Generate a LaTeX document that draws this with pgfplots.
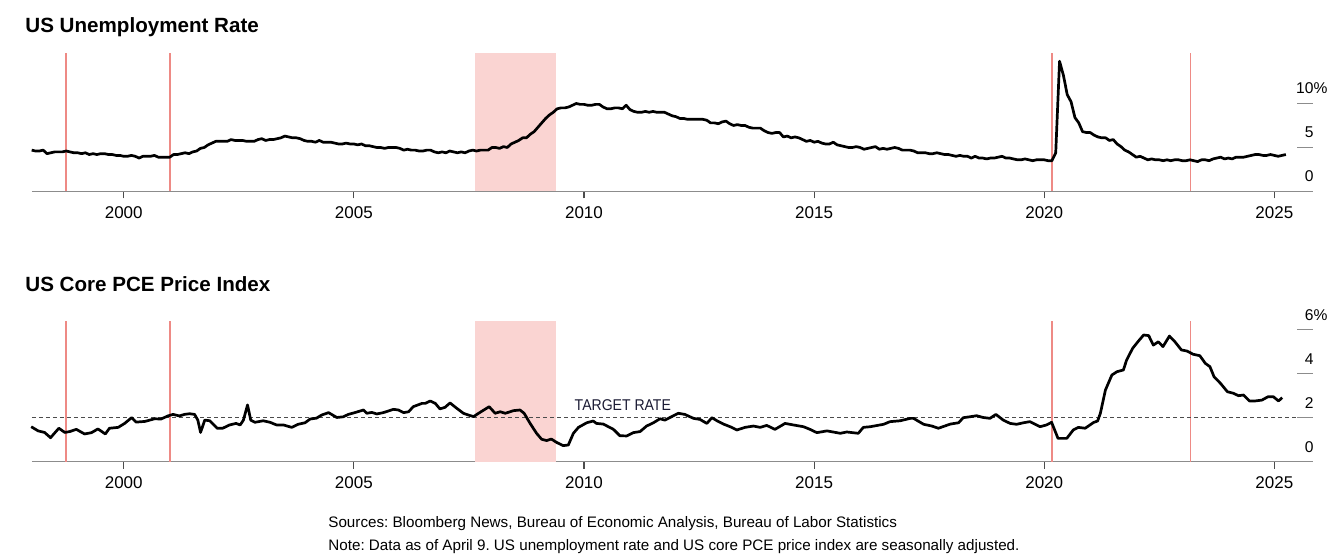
\documentclass[border=0pt]{standalone}
\usepackage{pgfplots}
\pgfplotsset{compat=1.18}
\usepackage{fontspec}
\setmainfont{Liberation Sans}
\newfontfamily\narrow[FakeStretch=0.9]{Liberation Sans}
\frenchspacing

\definecolor{recline}{HTML}{EE8A85}
\definecolor{recfill}{HTML}{FAD4D2}
\definecolor{axgray}{HTML}{8C8C8C}
\definecolor{navy}{HTML}{1A1A33}

% 1 px of the reference = 0.5pt
\pgfplotsset{
  panel/.style={
    scale only axis, width=640.5pt, anchor=south west, clip=false,
    xmin=1998.007, xmax=2025.84, ymin=0,
    axis x line*=bottom, axis y line=none,
    x axis line style={axgray, line width=0.6pt, -},
    xtick={2000,2005,2010,2015,2020,2025},
    xticklabels={2000,2005,2010,2015,2020,2025},
    ytick=\empty,
    tick align=outside, major tick length=3.5pt,
    every tick/.style={black!70, line width=0.6pt},
    xticklabel style={font=\fontsize{8.5}{10}\selectfont, anchor=base, yshift=-10pt},
  },
  recession/.style={fill=recfill, draw=none},
  cutline/.style={recline, line width=0.8pt},
  series/.style={black, line width=1.35pt, line join=round},
}
\tikzset{
  rtick/.style={axgray, line width=0.6pt},
  rlabel/.style={anchor=base east, inner sep=0pt, font=\fontsize{7.8}{10}\selectfont, yshift=4.8pt},
  title/.style={anchor=base west, inner sep=0pt, font=\bfseries\fontsize{10.3}{12}\selectfont},
  note/.style={anchor=base west, inner sep=0pt, font=\fontsize{7.6}{9}\selectfont},
}

\begin{document}
\begin{tikzpicture}
\path[use as bounding box] (0,0) rectangle (671pt,280pt);

% ---------------- top panel: unemployment ----------------
\node[title] at (12.5pt,263.6pt) {US Unemployment Rate};
\begin{axis}[panel, at={(16pt,184.25pt)}, height=69.25pt, ymax=15.74]
\addplot[recession] coordinates {(2007.63,0) (2009.39,0) (2009.39,15.74) (2007.63,15.74)} -- cycle;
\addplot[cutline] coordinates {(1998.74,0) (1998.74,15.74)};
\addplot[cutline] coordinates {(2001.01,0) (2001.01,15.74)};
\addplot[cutline] coordinates {(2020.17,0) (2020.17,15.74)};
\addplot[cutline] coordinates {(2023.18,0) (2023.18,15.74)};
\addplot[series] coordinates {
(1998.000,4.7)
(1998.083,4.6) (1998.167,4.6) (1998.250,4.7) (1998.333,4.3) (1998.417,4.4) (1998.500,4.5) (1998.583,4.5) (1998.667,4.5) (1998.750,4.6) (1998.833,4.5) (1998.917,4.4) (1999.000,4.4)
(1999.083,4.3) (1999.167,4.4) (1999.250,4.2) (1999.333,4.3) (1999.417,4.2) (1999.500,4.3) (1999.583,4.3) (1999.667,4.2) (1999.750,4.2) (1999.833,4.1) (1999.917,4.1) (2000.000,4.0)
(2000.083,4.0) (2000.167,4.1) (2000.250,4.0) (2000.333,3.8) (2000.417,4.0) (2000.500,4.0) (2000.583,4.0) (2000.667,4.1) (2000.750,3.9) (2000.833,3.9) (2000.917,3.9) (2001.000,3.9)
(2001.083,4.2) (2001.167,4.2) (2001.250,4.3) (2001.333,4.4) (2001.417,4.3) (2001.500,4.5) (2001.583,4.6) (2001.667,4.9) (2001.750,5.0) (2001.833,5.3) (2001.917,5.5) (2002.000,5.7)
(2002.083,5.7) (2002.167,5.7) (2002.250,5.7) (2002.333,5.9) (2002.417,5.8) (2002.500,5.8) (2002.583,5.8) (2002.667,5.7) (2002.750,5.7) (2002.833,5.7) (2002.917,5.9) (2003.000,6.0)
(2003.083,5.8) (2003.167,5.9) (2003.250,5.9) (2003.333,6.0) (2003.417,6.1) (2003.500,6.3) (2003.583,6.2) (2003.667,6.1) (2003.750,6.1) (2003.833,6.0) (2003.917,5.8) (2004.000,5.7)
(2004.083,5.7) (2004.167,5.6) (2004.250,5.8) (2004.333,5.6) (2004.417,5.6) (2004.500,5.6) (2004.583,5.5) (2004.667,5.4) (2004.750,5.4) (2004.833,5.5) (2004.917,5.4) (2005.000,5.4)
(2005.083,5.3) (2005.167,5.4) (2005.250,5.2) (2005.333,5.2) (2005.417,5.1) (2005.500,5.0) (2005.583,5.0) (2005.667,4.9) (2005.750,5.0) (2005.833,5.0) (2005.917,5.0) (2006.000,4.9)
(2006.083,4.7) (2006.167,4.8) (2006.250,4.7) (2006.333,4.7) (2006.417,4.6) (2006.500,4.6) (2006.583,4.7) (2006.667,4.7) (2006.750,4.5) (2006.833,4.4) (2006.917,4.5) (2007.000,4.4)
(2007.083,4.6) (2007.167,4.5) (2007.250,4.4) (2007.333,4.5) (2007.417,4.4) (2007.500,4.6) (2007.583,4.7) (2007.667,4.6) (2007.750,4.7) (2007.833,4.7) (2007.917,4.7) (2008.000,5.0)
(2008.083,5.0) (2008.167,4.9) (2008.250,5.1) (2008.333,5.0) (2008.417,5.4) (2008.500,5.6) (2008.583,5.8) (2008.667,6.1) (2008.750,6.1) (2008.833,6.5) (2008.917,6.8) (2009.000,7.3)
(2009.083,7.8) (2009.167,8.3) (2009.250,8.7) (2009.333,9.0) (2009.417,9.4) (2009.500,9.5) (2009.583,9.5) (2009.667,9.6) (2009.750,9.8) (2009.833,10.0) (2009.917,9.9) (2010.000,9.9)
(2010.083,9.8) (2010.167,9.8) (2010.250,9.9) (2010.333,9.9) (2010.417,9.6) (2010.500,9.4) (2010.583,9.4) (2010.667,9.5) (2010.750,9.5) (2010.833,9.4) (2010.917,9.8) (2011.000,9.3)
(2011.083,9.1) (2011.167,9.0) (2011.250,9.0) (2011.333,9.1) (2011.417,9.0) (2011.500,9.1) (2011.583,9.0) (2011.667,9.0) (2011.750,9.0) (2011.833,8.8) (2011.917,8.6) (2012.000,8.5)
(2012.083,8.3) (2012.167,8.3) (2012.250,8.2) (2012.333,8.2) (2012.417,8.2) (2012.500,8.2) (2012.583,8.2) (2012.667,8.1) (2012.750,7.8) (2012.833,7.8) (2012.917,7.7) (2013.000,7.9)
(2013.083,8.0) (2013.167,7.7) (2013.250,7.5) (2013.333,7.6) (2013.417,7.5) (2013.500,7.5) (2013.583,7.3) (2013.667,7.2) (2013.750,7.2) (2013.833,7.2) (2013.917,6.9) (2014.000,6.7)
(2014.083,6.6) (2014.167,6.7) (2014.250,6.7) (2014.333,6.2) (2014.417,6.3) (2014.500,6.1) (2014.583,6.2) (2014.667,6.1) (2014.750,5.9) (2014.833,5.7) (2014.917,5.8) (2015.000,5.6)
(2015.083,5.7) (2015.167,5.5) (2015.250,5.4) (2015.333,5.4) (2015.417,5.6) (2015.500,5.3) (2015.583,5.2) (2015.667,5.1) (2015.750,5.0) (2015.833,5.0) (2015.917,5.1) (2016.000,5.0)
(2016.083,4.8) (2016.167,4.9) (2016.250,5.0) (2016.333,5.1) (2016.417,4.8) (2016.500,4.9) (2016.583,4.8) (2016.667,4.9) (2016.750,5.0) (2016.833,4.9) (2016.917,4.7) (2017.000,4.7)
(2017.083,4.7) (2017.167,4.6) (2017.250,4.4) (2017.333,4.4) (2017.417,4.4) (2017.500,4.3) (2017.583,4.3) (2017.667,4.4) (2017.750,4.3) (2017.833,4.2) (2017.917,4.2) (2018.000,4.1)
(2018.083,4.0) (2018.167,4.1) (2018.250,4.0) (2018.333,4.0) (2018.417,3.8) (2018.500,4.0) (2018.583,3.8) (2018.667,3.8) (2018.750,3.7) (2018.833,3.8) (2018.917,3.8) (2019.000,3.9)
(2019.083,4.0) (2019.167,3.8) (2019.250,3.8) (2019.333,3.7) (2019.417,3.6) (2019.500,3.6) (2019.583,3.7) (2019.667,3.6) (2019.750,3.5) (2019.833,3.6) (2019.917,3.6) (2020.000,3.6)
(2020.083,3.5) (2020.167,3.5) (2020.250,4.4) (2020.333,14.8) (2020.417,13.2) (2020.500,11.0) (2020.583,10.2) (2020.667,8.4) (2020.750,7.8) (2020.833,6.8) (2020.917,6.7) (2021.000,6.7)
(2021.083,6.4) (2021.167,6.2) (2021.250,6.1) (2021.333,6.1) (2021.417,5.8) (2021.500,5.9) (2021.583,5.4) (2021.667,5.1) (2021.750,4.7) (2021.833,4.5) (2021.917,4.2) (2022.000,3.9)
(2022.083,4.0) (2022.167,3.8) (2022.250,3.6) (2022.333,3.7) (2022.417,3.6) (2022.500,3.6) (2022.583,3.5) (2022.667,3.6) (2022.750,3.5) (2022.833,3.6) (2022.917,3.6) (2023.000,3.5)
(2023.083,3.5) (2023.167,3.6) (2023.250,3.5) (2023.333,3.4) (2023.417,3.6) (2023.500,3.6) (2023.583,3.5) (2023.667,3.7) (2023.750,3.8) (2023.833,3.9) (2023.917,3.7) (2024.000,3.8)
(2024.083,3.7) (2024.167,3.9) (2024.250,3.9) (2024.333,3.9) (2024.417,4.0) (2024.500,4.1) (2024.583,4.2) (2024.667,4.2) (2024.750,4.1) (2024.833,4.1) (2024.917,4.2) (2025.000,4.1)
(2025.083,4.0) (2025.167,4.1) (2025.250,4.2)
};
\draw[rtick] (axis cs:2025.50,0) -- (axis cs:2025.84,0);
\draw[rtick] (axis cs:2025.50,5) -- (axis cs:2025.84,5);
\draw[rtick] (axis cs:2025.50,10) -- (axis cs:2025.84,10);
\node[rlabel] at (axis cs:2025.86,10) {10\rlap{\%}};
\node[rlabel] at (axis cs:2025.86,5) {5};
\node[rlabel] at (axis cs:2025.86,0) {0};
\end{axis}

% ---------------- bottom panel: core PCE ----------------
\node[title] at (12.5pt,134.3pt) {US Core PCE Price Index};
\begin{axis}[panel, at={(16pt,49.15pt)}, height=70.35pt, ymax=6.395]
\addplot[recession] coordinates {(2007.63,0) (2009.39,0) (2009.39,6.395) (2007.63,6.395)} -- cycle;
\addplot[cutline] coordinates {(1998.74,0) (1998.74,6.395)};
\addplot[cutline] coordinates {(2001.01,0) (2001.01,6.395)};
\addplot[cutline] coordinates {(2020.17,0) (2020.17,6.395)};
\addplot[cutline] coordinates {(2023.18,0) (2023.18,6.395)};
\addplot[black!70, line width=0.55pt, dash pattern=on 2pt off 1.5pt] coordinates {(1998.007,2) (2025.50,2)};
\node[anchor=base west, inner sep=0pt, text=navy, font=\narrow\fontsize{7.8}{9}\selectfont] at (axis cs:2009.79,2.32) {TARGET RATE};
\addplot[series] coordinates {
(1997.99,1.59) (1998.14,1.40) (1998.28,1.33) (1998.41,1.09) (1998.59,1.52) (1998.72,1.33) (1998.83,1.37) (1998.97,1.47)
(1999.15,1.26) (1999.30,1.32) (1999.44,1.49) (1999.60,1.26) (1999.69,1.52) (1999.88,1.56) (2000.02,1.74) (2000.17,2.00)
(2000.27,1.80) (2000.46,1.83) (2000.67,1.95) (2000.81,1.94) (2000.96,2.08) (2001.07,2.15) (2001.21,2.08) (2001.32,2.15)
(2001.43,2.18) (2001.54,2.15) (2001.61,1.89) (2001.67,1.33) (2001.76,1.89) (2001.87,1.86) (2002.03,1.52) (2002.15,1.52)
(2002.30,1.67) (2002.44,1.74) (2002.53,1.67) (2002.60,1.89) (2002.69,2.58) (2002.76,1.89) (2002.85,1.79) (2003.03,1.86)
(2003.18,1.79) (2003.32,1.67) (2003.47,1.67) (2003.65,1.56) (2003.79,1.70) (2003.94,1.77) (2004.05,1.94) (2004.19,1.98)
(2004.30,2.12) (2004.45,2.23) (2004.63,2.01) (2004.77,2.04) (2004.88,2.15) (2005.02,2.23) (2005.21,2.35) (2005.28,2.20)
(2005.39,2.24) (2005.50,2.17) (2005.64,2.23) (2005.86,2.38) (2005.97,2.35) (2006.08,2.23) (2006.19,2.27) (2006.29,2.50)
(2006.48,2.65) (2006.55,2.65) (2006.66,2.76) (2006.77,2.65) (2006.87,2.40) (2006.98,2.47) (2007.09,2.67) (2007.24,2.42)
(2007.38,2.20) (2007.49,2.12) (2007.60,2.05) (2007.74,2.24) (2007.94,2.50) (2008.07,2.20) (2008.18,2.27) (2008.29,2.20)
(2008.47,2.32) (2008.61,2.35) (2008.70,2.20) (2008.83,1.74) (2008.97,1.29) (2009.08,1.02) (2009.19,0.96) (2009.29,1.03)
(2009.41,0.87) (2009.55,0.73) (2009.66,0.76) (2009.77,1.29) (2009.88,1.56) (2010.06,1.77) (2010.20,1.85) (2010.27,1.74)
(2010.42,1.71) (2010.64,1.47) (2010.78,1.18) (2010.93,1.17) (2011.07,1.32) (2011.22,1.37) (2011.36,1.62) (2011.51,1.77)
(2011.65,1.95) (2011.76,1.89) (2011.87,2.01) (2012.05,2.20) (2012.19,2.15) (2012.38,1.97) (2012.52,1.92) (2012.67,1.74)
(2012.78,2.00) (2012.89,1.86) (2013.03,1.71) (2013.21,1.56) (2013.32,1.44) (2013.50,1.56) (2013.68,1.62) (2013.83,1.56)
(2013.97,1.65) (2014.15,1.47) (2014.37,1.74) (2014.55,1.67) (2014.77,1.59) (2014.91,1.47) (2015.06,1.32) (2015.28,1.40)
(2015.57,1.29) (2015.71,1.35) (2015.96,1.29) (2016.07,1.56) (2016.22,1.59) (2016.51,1.70) (2016.65,1.82) (2016.87,1.86)
(2017.09,1.97) (2017.16,1.97) (2017.38,1.70) (2017.56,1.62) (2017.70,1.52) (2017.96,1.71) (2018.14,1.77) (2018.24,2.00)
(2018.38,2.04) (2018.53,2.09) (2018.67,2.01) (2018.82,1.97) (2018.95,2.15) (2019.11,1.89) (2019.26,1.74) (2019.40,1.70)
(2019.55,1.77) (2019.69,1.82) (2019.91,1.59) (2020.05,1.67) (2020.16,1.79) (2020.30,1.06) (2020.49,1.06) (2020.63,1.44)
(2020.74,1.56) (2020.89,1.52) (2021.07,1.78) (2021.16,1.85) (2021.22,2.20) (2021.33,3.26) (2021.47,3.94) (2021.58,4.09)
(2021.72,4.17) (2021.79,4.62) (2021.92,5.15) (2022.05,5.49) (2022.16,5.76) (2022.27,5.73) (2022.37,5.30) (2022.48,5.45)
(2022.58,5.23) (2022.72,5.71) (2022.84,5.45) (2022.98,5.08) (2023.10,5.03) (2023.24,4.88) (2023.38,4.82) (2023.50,4.47)
(2023.60,4.32) (2023.69,3.86) (2023.83,3.56) (2023.98,3.18) (2024.11,3.11) (2024.22,3.00) (2024.33,3.03) (2024.46,2.76)
(2024.58,2.76) (2024.73,2.80) (2024.86,2.95) (2024.98,2.95) (2025.09,2.76) (2025.17,2.91)
};
\draw[rtick] (axis cs:2025.50,0) -- (axis cs:2025.84,0);
\draw[rtick] (axis cs:2025.50,2) -- (axis cs:2025.84,2);
\draw[rtick] (axis cs:2025.50,4) -- (axis cs:2025.84,4);
\draw[rtick] (axis cs:2025.50,6) -- (axis cs:2025.84,6);
\node[rlabel] at (axis cs:2025.86,6) {6\rlap{\%}};
\node[rlabel] at (axis cs:2025.86,4) {4};
\node[rlabel] at (axis cs:2025.86,2) {2};
\node[rlabel] at (axis cs:2025.86,0) {0};
\end{axis}

% ---------------- notes ----------------
\node[note] at (164pt,16pt) {Sources: Bloomberg News, Bureau of Economic Analysis, Bureau of Labor Statistics};
\node[note] at (164pt,4.85pt) {Note: Data as of April 9. US unemployment rate and US core PCE price index are seasonally adjusted.};
\end{tikzpicture}
\end{document}
